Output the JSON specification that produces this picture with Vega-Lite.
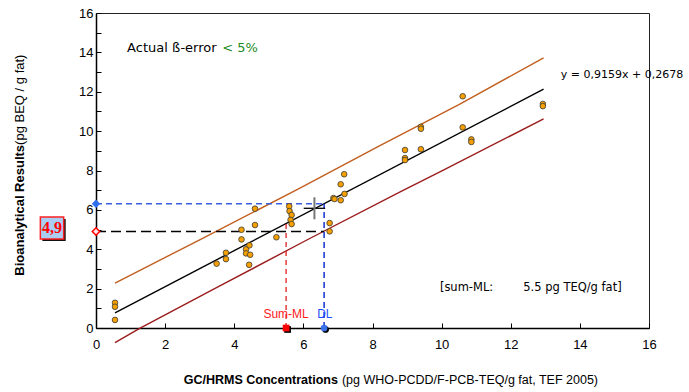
{
  "$schema": "https://vega.github.io/schema/vega-lite/v6.json",
  "width": 553,
  "height": 315,
  "autosize": {"type": "none"},
  "padding": {"left": 96, "top": 13, "right": 40, "bottom": 64},
  "background": "white",
  "config": {
    "view": {"stroke": "#222", "strokeWidth": 1},
    "axis": {"grid": false, "domainColor": "#000", "domainWidth": 1.5, "tickColor": "#000", "tickWidth": 1, "tickSize": -5, "labelFont": "Liberation Sans", "labelFontSize": 13, "labelColor": "#000", "labelFlush": false, "labelOverlap": false, "title": null}
  },
  "resolve": {"axis": {"y": "independent"}},
  "datasets": {
    "points": [
      {"gc": 0.55, "bio": 1.28}, {"gc": 0.55, "bio": 1.08}, {"gc": 0.55, "bio": 0.41},
      {"gc": 3.49, "bio": 3.27}, {"gc": 3.76, "bio": 3.82}, {"gc": 3.76, "bio": 3.50},
      {"gc": 4.34, "bio": 4.00}, {"gc": 4.34, "bio": 3.79}, {"gc": 4.44, "bio": 4.20},
      {"gc": 4.46, "bio": 3.72}, {"gc": 4.43, "bio": 3.21}, {"gc": 4.60, "bio": 6.06},
      {"gc": 4.21, "bio": 4.99}, {"gc": 4.60, "bio": 5.23}, {"gc": 4.21, "bio": 4.50},
      {"gc": 5.22, "bio": 4.61}, {"gc": 5.59, "bio": 6.18}, {"gc": 5.60, "bio": 5.94},
      {"gc": 5.66, "bio": 5.74}, {"gc": 5.63, "bio": 5.49}, {"gc": 5.66, "bio": 5.28},
      {"gc": 6.76, "bio": 5.33}, {"gc": 6.76, "bio": 4.91}, {"gc": 7.18, "bio": 7.81},
      {"gc": 7.08, "bio": 7.30}, {"gc": 7.19, "bio": 6.81}, {"gc": 6.87, "bio": 6.60},
      {"gc": 7.08, "bio": 6.49}, {"gc": 6.90, "bio": 6.55}, {"gc": 10.61, "bio": 11.77},
      {"gc": 9.40, "bio": 10.22}, {"gc": 9.40, "bio": 10.12}, {"gc": 10.61, "bio": 10.19},
      {"gc": 10.86, "bio": 9.58}, {"gc": 10.86, "bio": 9.45}, {"gc": 8.94, "bio": 9.04},
      {"gc": 9.40, "bio": 9.08}, {"gc": 8.94, "bio": 8.63}, {"gc": 8.94, "bio": 8.53},
      {"gc": 12.93, "bio": 11.38}, {"gc": 12.93, "bio": 11.27}
    ],
    "lines": [
      {"series": "fit", "gc": 0.55, "bio": 0.771}, {"series": "fit", "gc": 12.95, "bio": 12.129},
      {"series": "upper", "gc": 0.55, "bio": 2.28}, {"series": "upper", "gc": 3.0, "bio": 4.48},
      {"series": "upper", "gc": 5.9, "bio": 7.10}, {"series": "upper", "gc": 8.2, "bio": 9.25},
      {"series": "upper", "gc": 10.5, "bio": 11.35}, {"series": "upper", "gc": 12.95, "bio": 13.72},
      {"series": "lower", "gc": 0.55, "bio": -0.74}, {"series": "lower", "gc": 1.25, "bio": -0.03},
      {"series": "lower", "gc": 3.5, "bio": 2.06}, {"series": "lower", "gc": 6.1, "bio": 4.47},
      {"series": "lower", "gc": 8.8, "bio": 6.92}, {"series": "lower", "gc": 10.05, "bio": 8.02},
      {"series": "lower", "gc": 12.95, "bio": 10.62}
    ]
  },
  "layer": [
    {
      "data": {"name": "lines"},
      "transform": [{"filter": "datum.series === 'fit'"}],
      "mark": {"type": "line", "strokeWidth": 1.4, "color": "#000"},
      "encoding": {
        "x": {"field": "gc", "type": "quantitative", "scale": {"domain": [0, 16], "nice": false},
          "axis": {"values": [0,1,2,3,4,5,6,7,8,9,10,11,12,13,14,15,16], "labelExpr": "datum.value % 2 === 0 ? datum.label : ''", "labelPadding": 15, "labelOverlap": false}},
        "y": {"field": "bio", "type": "quantitative", "scale": {"domain": [0, 16], "nice": false},
          "axis": {"orient": "left", "values": [0,2,4,6,8,10,12,14,16], "labelPadding": 8, "labelOverlap": false}}
      }
    },
    {
      "data": {"name": "lines"},
      "transform": [{"filter": "datum.series === 'upper'"}],
      "mark": {"type": "line", "strokeWidth": 1.4, "color": "#c25e1e"},
      "encoding": {"x": {"field": "gc", "type": "quantitative"},
        "y": {"field": "bio", "type": "quantitative", "axis": {"orient": "left", "values": [1,3,5,7,9,11,13,15], "labels": false, "domain": false, "offset": 0}}}
    },
    {
      "data": {"name": "lines"},
      "transform": [{"filter": "datum.series === 'lower'"}],
      "mark": {"type": "line", "strokeWidth": 1.4, "color": "#9b1c1c"},
      "encoding": {"x": {"field": "gc", "type": "quantitative"}, "y": {"field": "bio", "type": "quantitative", "axis": null}}
    },
    {
      "data": {"values": [{"gc": 6.6, "bio": 6.31, "zero": 0}]},
      "mark": {"type": "rule", "color": "#3a5fe0", "strokeDash": [6, 4], "strokeWidth": 1.3},
      "encoding": {"x": {"field": "zero", "type": "quantitative"}, "x2": {"field": "gc"}, "y": {"field": "bio", "type": "quantitative", "axis": null}}
    },
    {
      "data": {"values": [{"gc": 6.6, "bio": 6.31, "zero": 0}]},
      "mark": {"type": "rule", "color": "#1530d0", "strokeDash": [6, 4], "strokeWidth": 1.5},
      "encoding": {"x": {"field": "gc", "type": "quantitative"}, "y": {"field": "zero", "type": "quantitative", "axis": null}, "y2": {"field": "bio"}}
    },
    {
      "data": {"values": [{"gc": 6.6, "bio": 4.9, "zero": 0}]},
      "mark": {"type": "rule", "color": "#000", "strokeDash": [10, 5], "strokeWidth": 1.5},
      "encoding": {"x": {"field": "zero", "type": "quantitative"}, "x2": {"field": "gc"}, "y": {"field": "bio", "type": "quantitative", "axis": null}}
    },
    {
      "data": {"values": [{"gc": 5.5, "bio": 5.3, "zero": 0}]},
      "mark": {"type": "rule", "color": "#e02020", "strokeDash": [5, 4], "strokeWidth": 1.3},
      "encoding": {"x": {"field": "gc", "type": "quantitative"}, "y": {"field": "zero", "type": "quantitative", "axis": null}, "y2": {"field": "bio"}}
    },
    {
      "data": {"values": [{"gc0": 6.01, "gc1": 6.63, "bio": 6.08}]},
      "mark": {"type": "rule", "color": "#000", "strokeWidth": 1.3},
      "encoding": {"x": {"field": "gc0", "type": "quantitative"}, "x2": {"field": "gc1"}, "y": {"field": "bio", "type": "quantitative", "axis": null}}
    },
    {
      "data": {"values": [{"gc": 6.32, "bio0": 5.52, "bio1": 6.64}]},
      "mark": {"type": "rule", "color": "#777", "strokeWidth": 2},
      "encoding": {"x": {"field": "gc", "type": "quantitative"}, "y": {"field": "bio0", "type": "quantitative", "axis": null}, "y2": {"field": "bio1"}}
    },
    {
      "data": {"name": "points"},
      "mark": {"type": "point", "filled": true, "fill": "#f5a000", "stroke": "#3a3a3a", "strokeWidth": 0.8, "size": 32, "opacity": 1},
      "encoding": {"x": {"field": "gc", "type": "quantitative"}, "y": {"field": "bio", "type": "quantitative", "axis": null}}
    },
    {
      "data": {"values": [{"gc": 0, "bio": 6.31}]},
      "mark": {"type": "point", "shape": "diamond", "filled": true, "fill": "#2f6fef", "size": 70, "opacity": 1},
      "encoding": {"x": {"field": "gc", "type": "quantitative"}, "y": {"field": "bio", "type": "quantitative", "axis": null}}
    },
    {
      "data": {"values": [{"gc": 0, "bio": 4.9}]},
      "mark": {"type": "point", "shape": "diamond", "filled": true, "fill": "#ffe6e6", "stroke": "#ff0000", "strokeWidth": 1.5, "size": 55, "opacity": 1},
      "encoding": {"x": {"field": "gc", "type": "quantitative"}, "y": {"field": "bio", "type": "quantitative", "axis": null}}
    },
    {
      "data": {"values": [{"gc": 5.5, "bio": 0}]},
      "mark": {"type": "point", "shape": "square", "filled": true, "fill": "#000", "size": 45, "opacity": 1, "xOffset": 1.5, "yOffset": 1.5},
      "encoding": {"x": {"field": "gc", "type": "quantitative"}, "y": {"field": "bio", "type": "quantitative", "axis": null}}
    },
    {
      "data": {"values": [{"gc": 5.5, "bio": 0}]},
      "mark": {"type": "point", "shape": "square", "filled": true, "fill": "#ff0000", "size": 45, "opacity": 1},
      "encoding": {"x": {"field": "gc", "type": "quantitative"}, "y": {"field": "bio", "type": "quantitative", "axis": null}}
    },
    {
      "data": {"values": [{"gc": 6.6, "bio": 0}]},
      "mark": {"type": "point", "shape": "circle", "filled": true, "fill": "#000", "size": 45, "opacity": 1, "xOffset": 1.5, "yOffset": 1.5},
      "encoding": {"x": {"field": "gc", "type": "quantitative"}, "y": {"field": "bio", "type": "quantitative", "axis": null}}
    },
    {
      "data": {"values": [{"gc": 6.6, "bio": 0}]},
      "mark": {"type": "point", "shape": "circle", "filled": true, "fill": "#3a70e8", "size": 45, "opacity": 1},
      "encoding": {"x": {"field": "gc", "type": "quantitative"}, "y": {"field": "bio", "type": "quantitative", "axis": null}}
    },
    {
      "data": {"values": [{"label": "Sum-ML", "gc": 5.5, "pos": 0.71}]},
      "mark": {"type": "text", "font": "Liberation Sans", "fontSize": 12, "baseline": "middle", "align": "center", "color": "#ff1a1a"},
      "encoding": {"x": {"field": "gc", "type": "quantitative"}, "y": {"field": "pos", "type": "quantitative", "axis": null}, "text": {"field": "label"}}
    },
    {
      "data": {"values": [{"label": "DL", "gc": 6.62, "pos": 0.71}]},
      "mark": {"type": "text", "font": "Liberation Sans", "fontSize": 12, "baseline": "middle", "align": "center", "color": "#1f4fff"},
      "encoding": {"x": {"field": "gc", "type": "quantitative"}, "y": {"field": "pos", "type": "quantitative", "axis": null}, "text": {"field": "label"}}
    },
    {
      "data": {"values": [{"label": "4,9", "x0": -1.61, "x1": -0.935, "y0": 4.52, "y1": 5.64}]},
      "mark": {"type": "rect", "fill": "#111", "xOffset": 2, "x2Offset": 2, "yOffset": 2, "y2Offset": 2},
      "encoding": {"x": {"field": "x0", "type": "quantitative"}, "x2": {"field": "x1"}, "y": {"field": "y0", "type": "quantitative", "axis": null}, "y2": {"field": "y1"}}
    },
    {
      "data": {"values": [{"label": "4,9", "x0": -1.61, "x1": -0.935, "y0": 4.52, "y1": 5.64}]},
      "mark": {"type": "rect", "fill": "#a9cdf3", "stroke": "#ff2020", "strokeWidth": 1.5},
      "encoding": {"x": {"field": "x0", "type": "quantitative"}, "x2": {"field": "x1"}, "y": {"field": "y0", "type": "quantitative", "axis": null}, "y2": {"field": "y1"}}
    },
    {
      "data": {"values": [{"label": "4,9", "xc": -1.27, "yc": 5.08}]},
      "mark": {"type": "text", "font": "Liberation Serif", "fontSize": 16, "fontWeight": "bold", "color": "#ff0000", "baseline": "middle", "align": "center"},
      "encoding": {"x": {"field": "xc", "type": "quantitative"}, "y": {"field": "yc", "type": "quantitative", "axis": null}, "text": {"field": "label"}}
    },
    {
      "data": {"values": [{"t": "Actual ß-error", "px": 0.9, "py": 14.2}]},
      "mark": {"type": "text", "font": "DejaVu Sans", "fontSize": 13, "align": "left", "baseline": "middle", "color": "#000"},
      "encoding": {"x": {"field": "px", "type": "quantitative"}, "y": {"field": "py", "type": "quantitative", "axis": null}, "text": {"field": "t"}}
    },
    {
      "data": {"values": [{"t": "< 5%", "px": 3.65, "py": 14.2}]},
      "mark": {"type": "text", "font": "DejaVu Sans", "fontSize": 13, "align": "left", "baseline": "middle", "color": "#228b22"},
      "encoding": {"x": {"field": "px", "type": "quantitative"}, "y": {"field": "py", "type": "quantitative", "axis": null}, "text": {"field": "t"}}
    },
    {
      "data": {"values": [
        {"t": "[sum-ML:", "px": 9.95, "py": 2.04},
        {"t": "5.5 pg TEQ/g fat]", "px": 12.36, "py": 2.04}
      ]},
      "mark": {"type": "text", "font": "DejaVu Sans", "fontSize": 11.5, "align": "left", "baseline": "middle", "color": "#000"},
      "encoding": {"x": {"field": "px", "type": "quantitative"}, "y": {"field": "py", "type": "quantitative", "axis": null}, "text": {"field": "t"}}
    },
    {
      "data": {"values": [{"t": "y = 0,9159x + 0,2678", "px": 13.45, "py": 12.85}]},
      "mark": {"type": "text", "font": "DejaVu Sans", "fontSize": 11, "align": "left", "baseline": "middle", "color": "#000"},
      "encoding": {"x": {"field": "px", "type": "quantitative"}, "y": {"field": "py", "type": "quantitative", "axis": null}, "text": {"field": "t"}}
    },
    {
      "data": {"values": [{"b": "GC/HRMS Concentrations", "px": 7.0, "py": -2.64}]},
      "mark": {"type": "text", "font": "Liberation Sans", "fontSize": 12.5, "fontWeight": "bold", "color": "#000", "align": "right", "baseline": "middle"},
      "encoding": {"x": {"field": "px", "type": "quantitative"}, "y": {"field": "py", "type": "quantitative", "axis": null}, "text": {"field": "b"}}
    },
    {
      "data": {"values": [{"n": "(pg WHO-PCDD/F-PCB-TEQ/g fat, TEF 2005)", "px": 7.0, "py": -2.64}]},
      "mark": {"type": "text", "font": "Liberation Sans", "fontSize": 12.5, "color": "#000", "align": "left", "baseline": "middle", "dx": 4},
      "encoding": {"x": {"field": "px", "type": "quantitative"}, "y": {"field": "py", "type": "quantitative", "axis": null}, "text": {"field": "n"}}
    },
    {
      "data": {"values": [{"b": "Bioanalytical Results", "px": -2.21, "py": 9.3}]},
      "mark": {"type": "text", "font": "Liberation Sans", "fontSize": 13, "fontWeight": "bold", "color": "#000", "align": "right", "baseline": "middle", "angle": 270},
      "encoding": {"x": {"field": "px", "type": "quantitative"}, "y": {"field": "py", "type": "quantitative", "axis": null}, "text": {"field": "b"}}
    },
    {
      "data": {"values": [{"n": "(pg BEQ / g fat)", "px": -2.21, "py": 9.3}]},
      "mark": {"type": "text", "font": "Liberation Sans", "fontSize": 13, "color": "#000", "align": "left", "baseline": "middle", "angle": 270},
      "encoding": {"x": {"field": "px", "type": "quantitative"}, "y": {"field": "py", "type": "quantitative", "axis": null}, "text": {"field": "n"}}
    }
  ]
}
